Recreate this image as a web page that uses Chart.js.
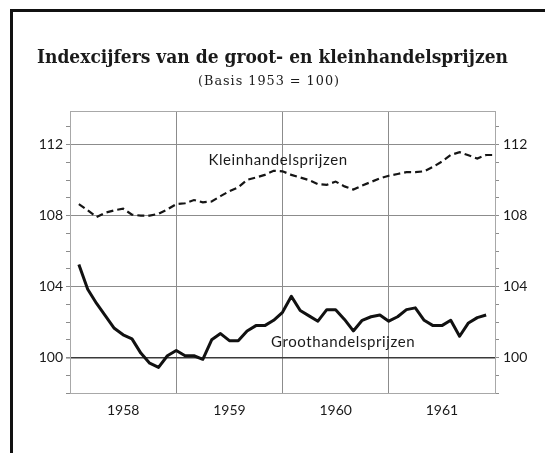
<!DOCTYPE html>
<html><head><meta charset="utf-8">
<script src="https://cdn.jsdelivr.net/npm/chart.js@4.4.1/dist/chart.umd.min.js"></script>
<style>html,body{margin:0;padding:0;background:#fff;overflow:hidden}</style>
</head><body>
<canvas id="c" width="545" height="453" style="width:545px;height:453px;display:block"></canvas>
<script>
// ---- data (monthly index numbers, base 1953 = 100) ----
const months = [1,2,3,4,5,6,7,8,9,10,11,12,13,14,15,16,17,18,19,20,21,22,23,24,
                25,26,27,28,29,30,31,32,33,34,35,36,37,38,39,40,41,42,43,44,45,46,47,48];
const yearLabels = ['1958','1959','1960','1961'];
const yTickLabels = [100,104,108,112];
const kleinValues = [108.65,108.3,107.92,108.17,108.3,108.39,108.06,108.0,108.0,108.1,108.35,108.65,
                     108.7,108.88,108.75,108.8,109.1,109.38,109.6,110.02,110.15,110.3,110.53,110.5,
                     110.3,110.15,110.0,109.78,109.74,109.92,109.65,109.47,109.7,109.9,110.1,110.25,
                     110.35,110.45,110.45,110.5,110.75,111.05,111.42,111.58,111.4,111.22,111.42,111.42];
const grootValues = [105.25,103.85,103.05,102.35,101.65,101.28,101.05,100.25,99.68,99.44,100.1,100.4,
                     100.1,100.1,99.9,101.0,101.35,100.95,100.95,101.5,101.8,101.8,102.1,102.55,
                     103.45,102.65,102.35,102.05,102.7,102.7,102.15,101.5,102.1,102.3,102.4,102.05,
                     102.3,102.7,102.8,102.1,101.8,101.8,102.1,101.2,101.95,102.25,102.4];
const titleText = 'Indexcijfers van de groot- en kleinhandelsprijzen';
const subtitleText = '(Basis 1953 = 100)';
const seriesNames = ['Kleinhandelsprijzen','Groothandelsprijzen'];

const tickFont = {family:'Lato, "DejaVu Sans", sans-serif', size:14};
const ink = '#1a1a1a';
const axisGray = '#a8a8a8';

const decor = {
  id:'decor',
  beforeDraw(chart){
    const c = chart.ctx;
    c.save();
    c.fillStyle = '#ffffff';
    c.fillRect(0,0,chart.width,chart.height);
    // scanned page frame
    c.strokeStyle = '#111';
    c.lineWidth = 3;
    c.beginPath();
    c.moveTo(545,10.5); c.lineTo(11.5,10.5); c.lineTo(11.5,453);
    c.stroke();
    // title + subtitle
    c.fillStyle = ink;
    c.textAlign = 'center';
    c.textBaseline = 'alphabetic';
    c.font = 'bold 19px "DejaVu Serif", serif';
    c.fillText(titleText, 272.5, 63, 471);
    c.font = '13px "DejaVu Serif", serif';
    if ('letterSpacing' in c) c.letterSpacing = '1px';
    c.fillText(subtitleText, 269, 85, 142);
    c.restore();
  },
  afterDraw(chart){
    const c = chart.ctx, a = chart.chartArea;
    c.save();
    c.strokeStyle = axisGray;
    c.lineWidth = 1;
    c.beginPath();
    c.moveTo(a.left, a.top + 0.5); c.lineTo(a.right, a.top + 0.5);
    c.stroke();
    c.restore();
  },
  afterDatasetsDraw(chart){
    const c = chart.ctx, xs = chart.scales.x, ys = chart.scales.y;
    c.save();
    c.fillStyle = ink;
    c.textAlign = 'center';
    c.textBaseline = 'middle';
    c.font = '15px Lato, "DejaVu Sans", sans-serif';
    if ('letterSpacing' in c) c.letterSpacing = '0.6px';
    c.fillText(seriesNames[0], xs.getPixelForValue(23.5), ys.getPixelForValue(111.15));
    c.fillText(seriesNames[1], xs.getPixelForValue(30.85), ys.getPixelForValue(100.86));
    c.restore();
  }
};

const yGrid = (ctx) => {
  const v = ctx.tick ? ctx.tick.value : null;
  if (v === 100) return '#3a3a3a';
  return yTickLabels.includes(v) ? '#8c8c8c' : 'rgba(0,0,0,0)';
};
const yTickColor = (ctx) => {
  const v = ctx.tick ? ctx.tick.value : null;
  return (v !== null && Number.isInteger(v)) ? '#8c8c8c' : 'rgba(0,0,0,0)';
};

new Chart(document.getElementById('c'), {
  type:'line',
  data:{
    datasets:[
      {label:seriesNames[0], data:months.map((m,i)=>({x:m,y:kleinValues[i]})),
       borderColor:'#151515', borderWidth:2.2, borderDash:[7,4], pointRadius:0, tension:0, fill:false},
      {label:seriesNames[1], data:grootValues.map((v,i)=>({x:months[i],y:v})),
       borderColor:'#111', borderWidth:3, pointRadius:0, tension:0, fill:false, borderJoinStyle:'round'}
    ]
  },
  plugins:[decor],
  options:{
    responsive:false, animation:false, devicePixelRatio:1,
    layout:{padding:{top:111,left:0,right:0,bottom:0}},
    plugins:{legend:{display:false}, tooltip:{enabled:false}, title:{display:false}},
    scales:{
      x:{
        type:'linear', min:0, max:48,
        afterBuildTicks:(s)=>{ s.ticks = [0,6,12,18,24,30,36,42,48].map(v=>({value:v})); },
        afterFit:(s)=>{ s.height = 60; },
        ticks:{autoSkip:false, maxRotation:0, padding:9, color:ink, font:tickFont,
               callback:(v)=> (v % 12 === 6) ? yearLabels[(v-6)/12] : ''},
        grid:{drawTicks:false,
              color:(ctx)=>{const v = ctx.tick ? ctx.tick.value : 0; return (v>0 && v<48 && v%12===0) ? '#8c8c8c' : 'rgba(0,0,0,0)';},
              lineWidth:1},
        border:{color:axisGray, width:1}
      },
      y:{
        position:'left', min:98, max:113.9,
        afterFit:(s)=>{ s.width = 70; },
        ticks:{stepSize:1, autoSkip:false, padding:3, color:ink, font:tickFont,
               callback:(v)=> yTickLabels.includes(v) ? String(v) : ''},
        grid:{color:yGrid, lineWidth:(ctx)=> (ctx.tick && ctx.tick.value===100) ? 1.6 : 1,
              drawTicks:true, tickLength:4, tickColor:yTickColor},
        border:{color:axisGray, width:1}
      },
      y2:{
        position:'right', min:98, max:113.9,
        afterFit:(s)=>{ s.width = 50; },
        ticks:{stepSize:1, autoSkip:false, padding:4, color:ink, font:tickFont,
               callback:(v)=> yTickLabels.includes(v) ? String(v) : ''},
        grid:{drawOnChartArea:false, drawTicks:true, tickLength:4, tickColor:yTickColor},
        border:{color:axisGray, width:1}
      }
    }
  }
});
</script>
</body></html>
